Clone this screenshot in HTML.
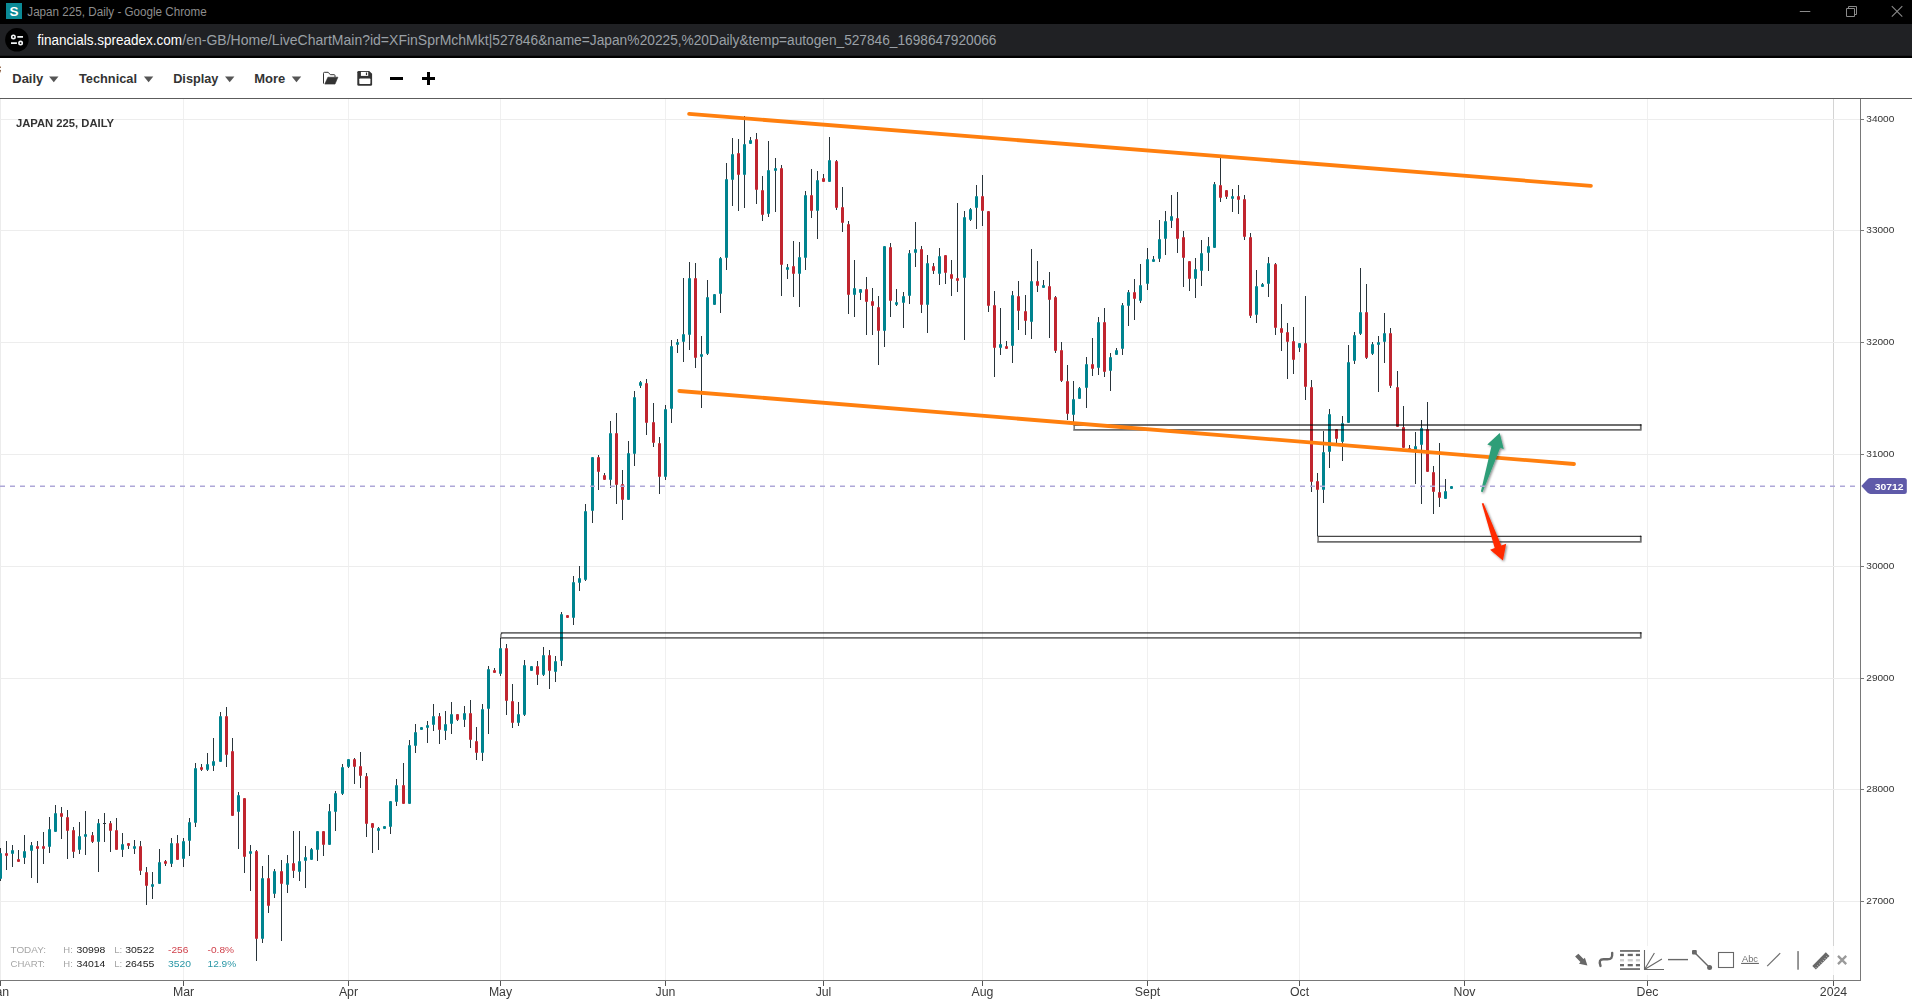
<!DOCTYPE html>
<html><head><meta charset="utf-8"><title>Japan 225, Daily</title>
<style>html,body{margin:0;padding:0;background:#fff;overflow:hidden}svg{display:block}text{white-space:pre}</style></head><body>
<svg width="1912" height="1003" viewBox="0 0 1912 1003">
<g shape-rendering="crispEdges">
<rect x="183" y="99" width="1" height="881" fill="#f0f0f0"/>
<rect x="348" y="99" width="1" height="881" fill="#f0f0f0"/>
<rect x="500" y="99" width="1" height="881" fill="#f0f0f0"/>
<rect x="665" y="99" width="1" height="881" fill="#f0f0f0"/>
<rect x="823" y="99" width="1" height="881" fill="#f0f0f0"/>
<rect x="982" y="99" width="1" height="881" fill="#f0f0f0"/>
<rect x="1147" y="99" width="1" height="881" fill="#f0f0f0"/>
<rect x="1299" y="99" width="1" height="881" fill="#f0f0f0"/>
<rect x="1464" y="99" width="1" height="881" fill="#f0f0f0"/>
<rect x="1647" y="99" width="1" height="881" fill="#f0f0f0"/>
<rect x="1833" y="99" width="1" height="881" fill="#d4d4d4"/>
<rect x="0" y="99" width="1" height="881" fill="#ececec"/>
<rect x="0" y="119" width="1860" height="1" fill="#ededed"/>
<rect x="0" y="230" width="1860" height="1" fill="#ededed"/>
<rect x="0" y="342" width="1860" height="1" fill="#ededed"/>
<rect x="0" y="454" width="1860" height="1" fill="#ededed"/>
<rect x="0" y="566" width="1860" height="1" fill="#ededed"/>
<rect x="0" y="678" width="1860" height="1" fill="#ededed"/>
<rect x="0" y="789" width="1860" height="1" fill="#ededed"/>
<rect x="0" y="901" width="1860" height="1" fill="#ededed"/>
</g>
<path d="M0.5 848V881M6.5 841V870M12.5 845V867M18.5 850V862M24.5 835V864M31.5 842V878M37.5 841V883M43.5 832V864M49.5 817V853M55.5 805V832M61.5 807V839M67.5 810V859M73.5 827V858M79.5 822V854M85.5 811V855M92.5 832V843M98.5 819V872M104.5 813V842M110.5 821V852M116.5 818V850M122.5 833V857M128.5 843V849M134.5 840V854M140.5 841V875M146.5 867V905M152.5 872V899M159.5 849V884M165.5 860V866M171.5 838V867M177.5 835V860M183.5 838V867M189.5 818V856M195.5 763V827M201.5 764V771M207.5 753V771M213.5 738V771M220.5 712V762M226.5 707V767M232.5 738V816M238.5 792V849M244.5 798V873M250.5 845V891M256.5 850V961M262.5 866V943M268.5 855V913M274.5 869V898M281.5 860V941M287.5 855V893M293.5 831V878M299.5 831V881M305.5 846V888M311.5 848V860M317.5 831V861M323.5 831V856M329.5 804V845M335.5 791V831M342.5 764V795M348.5 759V768M354.5 758V784M360.5 752V788M366.5 773V837M372.5 823V853M378.5 827V850M384.5 826V829M390.5 801V834M396.5 779V806M403.5 763V804M409.5 740V804M415.5 724V753M421.5 727V730M427.5 721V743M433.5 704V731M439.5 713V744M445.5 711V740M451.5 702V734M457.5 714V721M464.5 706V727M470.5 700V748M476.5 727V760M482.5 704V761M488.5 666V734M494.5 668V673M500.5 638V676M506.5 644V715M512.5 684V728M518.5 702V726M524.5 660V716M531.5 666V671M537.5 661V685M543.5 647V676M549.5 650V689M555.5 656V682M561.5 612V666M567.5 615V618M573.5 576V625M579.5 566V591M585.5 504V581M592.5 457V523M598.5 455V490M604.5 473V480M610.5 421V488M616.5 413V504M622.5 470V520M628.5 441V500M634.5 391V466M640.5 381V388M646.5 379V435M653.5 403V447M659.5 437V494M665.5 405V480M671.5 340V423M677.5 339V353M683.5 278V362M689.5 262V350M695.5 263V368M701.5 336V408M707.5 280V355M714.5 294V305M720.5 257V313M726.5 163V270M732.5 138V206M738.5 139V211M744.5 116V208M750.5 137V144M756.5 133V204M762.5 176V221M768.5 141V217M775.5 158V212M781.5 165V296M787.5 264V279M793.5 241V297M799.5 242V307M805.5 191V270M811.5 169V218M817.5 171V239M823.5 174V182M829.5 137V182M836.5 160V210M842.5 187V232M848.5 221V314M854.5 260V317M860.5 289V300M866.5 277V335M872.5 288V335M878.5 296V365M884.5 246V347M890.5 243V317M896.5 289V306M903.5 292V328M909.5 250V304M915.5 222V267M921.5 246V313M927.5 255V333M933.5 263V274M939.5 248V285M945.5 255V284M951.5 260V296M957.5 203V292M964.5 211V340M970.5 208V221M976.5 185V229M982.5 175V226M988.5 211V312M994.5 291V377M1000.5 308V355M1006.5 341V349M1012.5 291V363M1018.5 281V330M1025.5 295V335M1031.5 249V339M1037.5 261V292M1043.5 280V288M1049.5 272V338M1055.5 296V353M1061.5 342V382M1067.5 365V420M1073.5 381V424M1079.5 387V399M1086.5 357V408M1092.5 338V376M1098.5 317V375M1104.5 308V377M1110.5 353V391M1116.5 348V355M1122.5 303V355M1128.5 290V326M1134.5 279V320M1140.5 264V303M1147.5 248V290M1153.5 256V262M1159.5 220V262M1165.5 211V255M1171.5 195V228M1177.5 192V253M1183.5 231V287M1189.5 261V291M1195.5 258V298M1201.5 240V286M1208.5 237V271M1214.5 182V248M1220.5 158V202M1226.5 190V199M1232.5 189V212M1238.5 185V214M1244.5 195V240M1250.5 233V318M1256.5 270V323M1262.5 283V287M1268.5 257V297M1275.5 263V335M1281.5 304V351M1287.5 323V379M1293.5 327V374M1299.5 343V352M1305.5 296V400M1311.5 380V492M1317.5 473V536M1323.5 431V503M1329.5 409V468M1336.5 429V443M1342.5 416V461M1348.5 345V423M1354.5 332V364M1360.5 268V335M1366.5 284V359M1372.5 342V355M1378.5 336V392M1384.5 313V363M1390.5 328V388M1397.5 371V427M1403.5 406V448M1409.5 445V449M1415.5 432V484M1421.5 420V504M1427.5 402V472M1433.5 466V514M1439.5 443V507M1445.5 479V499M1451.5 486V489" stroke="#29343a" stroke-width="1" fill="none"/>
<rect x="-1.0" y="853" width="3" height="26" rx="1" fill="#00838f"/>
<rect x="5.0" y="853" width="3" height="3" rx="1" fill="#c0252f"/>
<rect x="11.0" y="850" width="3" height="4" rx="1" fill="#00838f"/>
<rect x="17.0" y="859" width="3" height="3" rx="1" fill="#c0252f"/>
<rect x="23.0" y="851" width="3" height="7" rx="1" fill="#00838f"/>
<rect x="30.0" y="845" width="3" height="6" rx="1" fill="#00838f"/>
<rect x="36.0" y="846" width="3" height="3" rx="1" fill="#c0252f"/>
<rect x="42.0" y="846" width="3" height="3" rx="1" fill="#c0252f"/>
<rect x="48.0" y="829" width="3" height="18" rx="1" fill="#00838f"/>
<rect x="54.0" y="813" width="3" height="19" rx="1" fill="#00838f"/>
<rect x="60.0" y="813" width="3" height="4" rx="1" fill="#c0252f"/>
<rect x="66.0" y="817" width="3" height="14" rx="1" fill="#c0252f"/>
<rect x="72.0" y="830" width="3" height="22" rx="1" fill="#c0252f"/>
<rect x="78.0" y="836" width="3" height="14" rx="1" fill="#00838f"/>
<rect x="84.0" y="834" width="3" height="3" rx="1" fill="#00838f"/>
<rect x="91.0" y="835" width="3" height="7" rx="1" fill="#c0252f"/>
<rect x="97.0" y="823" width="3" height="19" rx="1" fill="#00838f"/>
<rect x="103.0" y="823" width="3" height="1" fill="#29343a"/>
<rect x="109.0" y="823" width="3" height="8" rx="1" fill="#c0252f"/>
<rect x="115.0" y="830" width="3" height="20" rx="1" fill="#c0252f"/>
<rect x="121.0" y="844" width="3" height="6" rx="1" fill="#00838f"/>
<rect x="127.0" y="843" width="3" height="3" rx="1" fill="#c0252f"/>
<rect x="133.0" y="846" width="3" height="3" rx="1" fill="#00838f"/>
<rect x="139.0" y="846" width="3" height="25" rx="1" fill="#c0252f"/>
<rect x="145.0" y="872" width="3" height="14" rx="1" fill="#c0252f"/>
<rect x="151.0" y="884" width="3" height="3" rx="1" fill="#00838f"/>
<rect x="158.0" y="862" width="3" height="22" rx="1" fill="#00838f"/>
<rect x="164.0" y="861" width="3" height="3" rx="1" fill="#c0252f"/>
<rect x="170.0" y="843" width="3" height="21" rx="1" fill="#00838f"/>
<rect x="176.0" y="843" width="3" height="17" rx="1" fill="#c0252f"/>
<rect x="182.0" y="841" width="3" height="18" rx="1" fill="#00838f"/>
<rect x="188.0" y="822" width="3" height="19" rx="1" fill="#00838f"/>
<rect x="194.0" y="768" width="3" height="55" rx="1" fill="#00838f"/>
<rect x="200.0" y="767" width="3" height="3" rx="1" fill="#c0252f"/>
<rect x="206.0" y="764" width="3" height="6" rx="1" fill="#00838f"/>
<rect x="212.0" y="761" width="3" height="5" rx="1" fill="#00838f"/>
<rect x="219.0" y="716" width="3" height="46" rx="1" fill="#00838f"/>
<rect x="225.0" y="716" width="3" height="39" rx="1" fill="#c0252f"/>
<rect x="231.0" y="751" width="3" height="65" rx="1" fill="#c0252f"/>
<rect x="237.0" y="795" width="3" height="17" rx="1" fill="#00838f"/>
<rect x="243.0" y="798" width="3" height="59" rx="1" fill="#c0252f"/>
<rect x="249.0" y="851" width="3" height="3" rx="1" fill="#00838f"/>
<rect x="255.0" y="851" width="3" height="88" rx="1" fill="#c0252f"/>
<rect x="261.0" y="878" width="3" height="61" rx="1" fill="#00838f"/>
<rect x="267.0" y="878" width="3" height="28" rx="1" fill="#c0252f"/>
<rect x="273.0" y="871" width="3" height="23" rx="1" fill="#00838f"/>
<rect x="280.0" y="871" width="3" height="13" rx="1" fill="#c0252f"/>
<rect x="286.0" y="863" width="3" height="22" rx="1" fill="#00838f"/>
<rect x="292.0" y="863" width="3" height="8" rx="1" fill="#c0252f"/>
<rect x="298.0" y="861" width="3" height="11" rx="1" fill="#00838f"/>
<rect x="304.0" y="857" width="3" height="4" rx="1" fill="#00838f"/>
<rect x="310.0" y="849" width="3" height="11" rx="1" fill="#00838f"/>
<rect x="316.0" y="831" width="3" height="19" rx="1" fill="#00838f"/>
<rect x="322.0" y="831" width="3" height="14" rx="1" fill="#c0252f"/>
<rect x="328.0" y="811" width="3" height="34" rx="1" fill="#00838f"/>
<rect x="334.0" y="793" width="3" height="19" rx="1" fill="#00838f"/>
<rect x="341.0" y="767" width="3" height="27" rx="1" fill="#00838f"/>
<rect x="347.0" y="759" width="3" height="8" rx="1" fill="#00838f"/>
<rect x="353.0" y="759" width="3" height="8" rx="1" fill="#c0252f"/>
<rect x="359.0" y="766" width="3" height="10" rx="1" fill="#c0252f"/>
<rect x="365.0" y="776" width="3" height="48" rx="1" fill="#c0252f"/>
<rect x="371.0" y="823" width="3" height="5" rx="1" fill="#c0252f"/>
<rect x="377.0" y="828" width="3" height="3" rx="1" fill="#00838f"/>
<rect x="383.0" y="826" width="3" height="3" rx="1" fill="#00838f"/>
<rect x="389.0" y="801" width="3" height="26" rx="1" fill="#00838f"/>
<rect x="395.0" y="785" width="3" height="17" rx="1" fill="#00838f"/>
<rect x="402.0" y="785" width="3" height="19" rx="1" fill="#c0252f"/>
<rect x="408.0" y="745" width="3" height="59" rx="1" fill="#00838f"/>
<rect x="414.0" y="732" width="3" height="14" rx="1" fill="#00838f"/>
<rect x="420.0" y="727" width="3" height="3" rx="1" fill="#00838f"/>
<rect x="426.0" y="725" width="3" height="3" rx="1" fill="#00838f"/>
<rect x="432.0" y="716" width="3" height="9" rx="1" fill="#00838f"/>
<rect x="438.0" y="716" width="3" height="14" rx="1" fill="#c0252f"/>
<rect x="444.0" y="724" width="3" height="7" rx="1" fill="#00838f"/>
<rect x="450.0" y="714" width="3" height="10" rx="1" fill="#00838f"/>
<rect x="456.0" y="714" width="3" height="6" rx="1" fill="#c0252f"/>
<rect x="463.0" y="713" width="3" height="7" rx="1" fill="#00838f"/>
<rect x="469.0" y="713" width="3" height="27" rx="1" fill="#c0252f"/>
<rect x="475.0" y="741" width="3" height="12" rx="1" fill="#c0252f"/>
<rect x="481.0" y="709" width="3" height="44" rx="1" fill="#00838f"/>
<rect x="487.0" y="669" width="3" height="40" rx="1" fill="#00838f"/>
<rect x="493.0" y="670" width="3" height="3" rx="1" fill="#c0252f"/>
<rect x="499.0" y="648" width="3" height="26" rx="1" fill="#00838f"/>
<rect x="505.0" y="648" width="3" height="53" rx="1" fill="#c0252f"/>
<rect x="511.0" y="701" width="3" height="22" rx="1" fill="#c0252f"/>
<rect x="517.0" y="714" width="3" height="9" rx="1" fill="#00838f"/>
<rect x="523.0" y="665" width="3" height="50" rx="1" fill="#00838f"/>
<rect x="530.0" y="666" width="3" height="5" rx="1" fill="#00838f"/>
<rect x="536.0" y="666" width="3" height="9" rx="1" fill="#c0252f"/>
<rect x="542.0" y="655" width="3" height="20" rx="1" fill="#00838f"/>
<rect x="548.0" y="655" width="3" height="16" rx="1" fill="#c0252f"/>
<rect x="554.0" y="661" width="3" height="11" rx="1" fill="#00838f"/>
<rect x="560.0" y="614" width="3" height="47" rx="1" fill="#00838f"/>
<rect x="566.0" y="615" width="3" height="3" rx="1" fill="#c0252f"/>
<rect x="572.0" y="582" width="3" height="36" rx="1" fill="#00838f"/>
<rect x="578.0" y="578" width="3" height="5" rx="1" fill="#00838f"/>
<rect x="584.0" y="511" width="3" height="69" rx="1" fill="#00838f"/>
<rect x="591.0" y="457" width="3" height="54" rx="1" fill="#00838f"/>
<rect x="597.0" y="457" width="3" height="15" rx="1" fill="#c0252f"/>
<rect x="603.0" y="475" width="3" height="5" rx="1" fill="#c0252f"/>
<rect x="609.0" y="433" width="3" height="47" rx="1" fill="#00838f"/>
<rect x="615.0" y="433" width="3" height="52" rx="1" fill="#c0252f"/>
<rect x="621.0" y="484" width="3" height="16" rx="1" fill="#c0252f"/>
<rect x="627.0" y="453" width="3" height="47" rx="1" fill="#00838f"/>
<rect x="633.0" y="397" width="3" height="57" rx="1" fill="#00838f"/>
<rect x="639.0" y="382" width="3" height="4" rx="1" fill="#00838f"/>
<rect x="645.0" y="383" width="3" height="40" rx="1" fill="#c0252f"/>
<rect x="652.0" y="422" width="3" height="21" rx="1" fill="#c0252f"/>
<rect x="658.0" y="443" width="3" height="34" rx="1" fill="#c0252f"/>
<rect x="664.0" y="409" width="3" height="68" rx="1" fill="#00838f"/>
<rect x="670.0" y="346" width="3" height="63" rx="1" fill="#00838f"/>
<rect x="676.0" y="342" width="3" height="3" rx="1" fill="#00838f"/>
<rect x="682.0" y="334" width="3" height="8" rx="1" fill="#00838f"/>
<rect x="688.0" y="278" width="3" height="57" rx="1" fill="#00838f"/>
<rect x="694.0" y="278" width="3" height="80" rx="1" fill="#c0252f"/>
<rect x="700.0" y="354" width="3" height="3" rx="1" fill="#00838f"/>
<rect x="706.0" y="297" width="3" height="57" rx="1" fill="#00838f"/>
<rect x="713.0" y="294" width="3" height="11" rx="1" fill="#00838f"/>
<rect x="719.0" y="258" width="3" height="36" rx="1" fill="#00838f"/>
<rect x="725.0" y="179" width="3" height="79" rx="1" fill="#00838f"/>
<rect x="731.0" y="154" width="3" height="26" rx="1" fill="#00838f"/>
<rect x="737.0" y="153" width="3" height="22" rx="1" fill="#c0252f"/>
<rect x="743.0" y="144" width="3" height="31" rx="1" fill="#00838f"/>
<rect x="749.0" y="140" width="3" height="4" rx="1" fill="#00838f"/>
<rect x="755.0" y="139" width="3" height="51" rx="1" fill="#c0252f"/>
<rect x="761.0" y="190" width="3" height="25" rx="1" fill="#c0252f"/>
<rect x="767.0" y="170" width="3" height="44" rx="1" fill="#00838f"/>
<rect x="774.0" y="168" width="3" height="3" rx="1" fill="#00838f"/>
<rect x="780.0" y="168" width="3" height="97" rx="1" fill="#c0252f"/>
<rect x="786.0" y="267" width="3" height="3" rx="1" fill="#00838f"/>
<rect x="792.0" y="266" width="3" height="8" rx="1" fill="#c0252f"/>
<rect x="798.0" y="257" width="3" height="17" rx="1" fill="#00838f"/>
<rect x="804.0" y="195" width="3" height="63" rx="1" fill="#00838f"/>
<rect x="810.0" y="195" width="3" height="16" rx="1" fill="#c0252f"/>
<rect x="816.0" y="180" width="3" height="31" rx="1" fill="#00838f"/>
<rect x="822.0" y="178" width="3" height="4" rx="1" fill="#c0252f"/>
<rect x="828.0" y="160" width="3" height="22" rx="1" fill="#00838f"/>
<rect x="835.0" y="161" width="3" height="47" rx="1" fill="#c0252f"/>
<rect x="841.0" y="207" width="3" height="16" rx="1" fill="#c0252f"/>
<rect x="847.0" y="224" width="3" height="71" rx="1" fill="#c0252f"/>
<rect x="853.0" y="288" width="3" height="7" rx="1" fill="#00838f"/>
<rect x="859.0" y="289" width="3" height="4" rx="1" fill="#00838f"/>
<rect x="865.0" y="289" width="3" height="13" rx="1" fill="#c0252f"/>
<rect x="871.0" y="301" width="3" height="5" rx="1" fill="#c0252f"/>
<rect x="877.0" y="307" width="3" height="24" rx="1" fill="#c0252f"/>
<rect x="883.0" y="246" width="3" height="85" rx="1" fill="#00838f"/>
<rect x="889.0" y="247" width="3" height="54" rx="1" fill="#c0252f"/>
<rect x="895.0" y="302" width="3" height="3" rx="1" fill="#00838f"/>
<rect x="902.0" y="296" width="3" height="7" rx="1" fill="#00838f"/>
<rect x="908.0" y="253" width="3" height="43" rx="1" fill="#00838f"/>
<rect x="914.0" y="249" width="3" height="4" rx="1" fill="#00838f"/>
<rect x="920.0" y="249" width="3" height="56" rx="1" fill="#c0252f"/>
<rect x="926.0" y="263" width="3" height="42" rx="1" fill="#00838f"/>
<rect x="932.0" y="266" width="3" height="5" rx="1" fill="#c0252f"/>
<rect x="938.0" y="256" width="3" height="18" rx="1" fill="#00838f"/>
<rect x="944.0" y="255" width="3" height="18" rx="1" fill="#c0252f"/>
<rect x="950.0" y="274" width="3" height="5" rx="1" fill="#c0252f"/>
<rect x="956.0" y="278" width="3" height="3" rx="1" fill="#c0252f"/>
<rect x="963.0" y="217" width="3" height="61" rx="1" fill="#00838f"/>
<rect x="969.0" y="209" width="3" height="11" rx="1" fill="#00838f"/>
<rect x="975.0" y="196" width="3" height="12" rx="1" fill="#00838f"/>
<rect x="981.0" y="196" width="3" height="15" rx="1" fill="#c0252f"/>
<rect x="987.0" y="211" width="3" height="95" rx="1" fill="#c0252f"/>
<rect x="993.0" y="305" width="3" height="43" rx="1" fill="#c0252f"/>
<rect x="999.0" y="344" width="3" height="4" rx="1" fill="#00838f"/>
<rect x="1005.0" y="346" width="3" height="3" rx="1" fill="#c0252f"/>
<rect x="1011.0" y="295" width="3" height="51" rx="1" fill="#00838f"/>
<rect x="1017.0" y="296" width="3" height="15" rx="1" fill="#c0252f"/>
<rect x="1024.0" y="311" width="3" height="10" rx="1" fill="#c0252f"/>
<rect x="1030.0" y="281" width="3" height="41" rx="1" fill="#00838f"/>
<rect x="1036.0" y="281" width="3" height="5" rx="1" fill="#c0252f"/>
<rect x="1042.0" y="285" width="3" height="3" rx="1" fill="#00838f"/>
<rect x="1048.0" y="286" width="3" height="14" rx="1" fill="#c0252f"/>
<rect x="1054.0" y="297" width="3" height="54" rx="1" fill="#c0252f"/>
<rect x="1060.0" y="350" width="3" height="31" rx="1" fill="#c0252f"/>
<rect x="1066.0" y="381" width="3" height="33" rx="1" fill="#c0252f"/>
<rect x="1072.0" y="399" width="3" height="16" rx="1" fill="#00838f"/>
<rect x="1078.0" y="388" width="3" height="11" rx="1" fill="#00838f"/>
<rect x="1085.0" y="364" width="3" height="24" rx="1" fill="#00838f"/>
<rect x="1091.0" y="364" width="3" height="5" rx="1" fill="#c0252f"/>
<rect x="1097.0" y="322" width="3" height="46" rx="1" fill="#00838f"/>
<rect x="1103.0" y="322" width="3" height="50" rx="1" fill="#c0252f"/>
<rect x="1109.0" y="357" width="3" height="14" rx="1" fill="#00838f"/>
<rect x="1115.0" y="350" width="3" height="5" rx="1" fill="#00838f"/>
<rect x="1121.0" y="305" width="3" height="44" rx="1" fill="#00838f"/>
<rect x="1127.0" y="292" width="3" height="14" rx="1" fill="#00838f"/>
<rect x="1133.0" y="292" width="3" height="7" rx="1" fill="#c0252f"/>
<rect x="1139.0" y="285" width="3" height="16" rx="1" fill="#00838f"/>
<rect x="1146.0" y="259" width="3" height="25" rx="1" fill="#00838f"/>
<rect x="1152.0" y="259" width="3" height="3" rx="1" fill="#00838f"/>
<rect x="1158.0" y="239" width="3" height="20" rx="1" fill="#00838f"/>
<rect x="1164.0" y="221" width="3" height="18" rx="1" fill="#00838f"/>
<rect x="1170.0" y="216" width="3" height="5" rx="1" fill="#00838f"/>
<rect x="1176.0" y="218" width="3" height="21" rx="1" fill="#c0252f"/>
<rect x="1182.0" y="237" width="3" height="21" rx="1" fill="#c0252f"/>
<rect x="1188.0" y="261" width="3" height="18" rx="1" fill="#c0252f"/>
<rect x="1194.0" y="269" width="3" height="10" rx="1" fill="#00838f"/>
<rect x="1200.0" y="253" width="3" height="18" rx="1" fill="#00838f"/>
<rect x="1207.0" y="246" width="3" height="7" rx="1" fill="#00838f"/>
<rect x="1213.0" y="184" width="3" height="64" rx="1" fill="#00838f"/>
<rect x="1219.0" y="185" width="3" height="13" rx="1" fill="#c0252f"/>
<rect x="1225.0" y="190" width="3" height="7" rx="1" fill="#c0252f"/>
<rect x="1231.0" y="196" width="3" height="3" rx="1" fill="#00838f"/>
<rect x="1237.0" y="196" width="3" height="4" rx="1" fill="#c0252f"/>
<rect x="1243.0" y="199" width="3" height="38" rx="1" fill="#c0252f"/>
<rect x="1249.0" y="237" width="3" height="79" rx="1" fill="#c0252f"/>
<rect x="1255.0" y="286" width="3" height="29" rx="1" fill="#00838f"/>
<rect x="1261.0" y="284" width="3" height="3" rx="1" fill="#00838f"/>
<rect x="1267.0" y="263" width="3" height="21" rx="1" fill="#00838f"/>
<rect x="1274.0" y="264" width="3" height="64" rx="1" fill="#c0252f"/>
<rect x="1280.0" y="328" width="3" height="5" rx="1" fill="#c0252f"/>
<rect x="1286.0" y="332" width="3" height="10" rx="1" fill="#c0252f"/>
<rect x="1292.0" y="341" width="3" height="19" rx="1" fill="#c0252f"/>
<rect x="1298.0" y="343" width="3" height="5" rx="1" fill="#00838f"/>
<rect x="1304.0" y="343" width="3" height="44" rx="1" fill="#c0252f"/>
<rect x="1310.0" y="387" width="3" height="95" rx="1" fill="#c0252f"/>
<rect x="1316.0" y="481" width="3" height="9" rx="1" fill="#c0252f"/>
<rect x="1322.0" y="452" width="3" height="38" rx="1" fill="#00838f"/>
<rect x="1328.0" y="414" width="3" height="38" rx="1" fill="#00838f"/>
<rect x="1335.0" y="429" width="3" height="10" rx="1" fill="#c0252f"/>
<rect x="1341.0" y="423" width="3" height="19" rx="1" fill="#00838f"/>
<rect x="1347.0" y="362" width="3" height="61" rx="1" fill="#00838f"/>
<rect x="1353.0" y="335" width="3" height="26" rx="1" fill="#00838f"/>
<rect x="1359.0" y="312" width="3" height="22" rx="1" fill="#00838f"/>
<rect x="1365.0" y="312" width="3" height="46" rx="1" fill="#c0252f"/>
<rect x="1371.0" y="344" width="3" height="10" rx="1" fill="#00838f"/>
<rect x="1377.0" y="342" width="3" height="3" rx="1" fill="#00838f"/>
<rect x="1383.0" y="333" width="3" height="9" rx="1" fill="#00838f"/>
<rect x="1389.0" y="333" width="3" height="53" rx="1" fill="#c0252f"/>
<rect x="1396.0" y="387" width="3" height="40" rx="1" fill="#c0252f"/>
<rect x="1402.0" y="427" width="3" height="21" rx="1" fill="#c0252f"/>
<rect x="1408.0" y="448" width="3" height="3" rx="1" fill="#c0252f"/>
<rect x="1414.0" y="446" width="3" height="4" rx="1" fill="#00838f"/>
<rect x="1420.0" y="428" width="3" height="17" rx="1" fill="#00838f"/>
<rect x="1426.0" y="429" width="3" height="43" rx="1" fill="#c0252f"/>
<rect x="1432.0" y="472" width="3" height="20" rx="1" fill="#c0252f"/>
<rect x="1438.0" y="492" width="3" height="6" rx="1" fill="#c0252f"/>
<rect x="1444.0" y="491" width="3" height="8" rx="1" fill="#00838f"/>
<rect x="1450.0" y="486" width="3" height="3" rx="1" fill="#00838f"/>
<path d="M501.7 632.9H1640.8" fill="none" stroke="#000" stroke-opacity="0.57" stroke-width="1.8" stroke-linecap="round"/>
<path d="M500.8 637.8H1640.8M1640.8 632.9V637.8" fill="none" stroke="#000" stroke-opacity="0.57" stroke-width="1.8" stroke-linecap="round"/>
<path d="M500.90000000000003 636.9V634.5L502.0 633.1" fill="none" stroke="#000" stroke-opacity="0.57" stroke-width="1.3"/>
<path d="M1074 425H1640.8" fill="none" stroke="#000" stroke-opacity="0.57" stroke-width="1.8" stroke-linecap="round"/>
<path d="M1074 429.9H1640.8M1640.8 425V429.9" fill="none" stroke="#000" stroke-opacity="0.57" stroke-width="1.8" stroke-linecap="round"/>
<path d="M1074.2 429.0V425.7" fill="none" stroke="#000" stroke-opacity="0.55" stroke-width="1.5"/>
<path d="M1317.9 536.4H1640.8" fill="none" stroke="#000" stroke-opacity="0.72" stroke-width="1.3" stroke-linecap="round"/>
<path d="M1317.9 541.9H1640.8M1640.8 536.4V541.9" fill="none" stroke="#000" stroke-opacity="0.57" stroke-width="1.8" stroke-linecap="round"/>
<path d="M1318.1000000000001 541.0V537.1" fill="none" stroke="#000" stroke-opacity="0.55" stroke-width="1.5"/>
<path d="M689.1 113.9L1590.9 185.9" stroke="#ff7f0e" stroke-width="3.8" stroke-linecap="round" fill="none"/>
<path d="M679.3 391L1574 464" stroke="#ff7f0e" stroke-width="3.8" stroke-linecap="round" fill="none"/>
<defs><filter id="sh" x="-30%" y="-10%" width="170%" height="125%"><feDropShadow dx="1.2" dy="1.2" stdDeviation="0.9" flood-color="#000" flood-opacity="0.45"/></filter></defs>
<path d="M1480.9 491.6 L1491.5 445.9 L1487.3 444.6 L1499.7 433 L1503.8 449.2 L1500.2 447.8 L1482.6 492.2 Z" fill="#2f9e78" filter="url(#sh)"/>
<path d="M1481.8 503.5 L1483.4 502.9 L1501.3 545.6 L1506.2 543.7 L1502.9 560.5 L1490.1 549.7 L1494.7 548 Z" fill="#ff2a00" filter="url(#sh)"/>
<path d="M0 486.2H1446M1460 486.2H1860" stroke="#aea7d8" stroke-width="1.5" stroke-dasharray="5 5" fill="none"/>
<g shape-rendering="crispEdges">
<rect x="0" y="980" width="1861" height="1" fill="#787878"/>
<rect x="1860" y="99" width="1" height="882" fill="#787878"/>
<rect x="183" y="981" width="1" height="5" fill="#555"/>
<rect x="348" y="981" width="1" height="5" fill="#555"/>
<rect x="500" y="981" width="1" height="5" fill="#555"/>
<rect x="665" y="981" width="1" height="5" fill="#555"/>
<rect x="823" y="981" width="1" height="5" fill="#555"/>
<rect x="982" y="981" width="1" height="5" fill="#555"/>
<rect x="1147" y="981" width="1" height="5" fill="#555"/>
<rect x="1299" y="981" width="1" height="5" fill="#555"/>
<rect x="1464" y="981" width="1" height="5" fill="#555"/>
<rect x="1647" y="981" width="1" height="5" fill="#555"/>
<rect x="1833" y="981" width="1" height="5" fill="#555"/>
<rect x="1861" y="119" width="3" height="1" fill="#777"/>
<rect x="1861" y="230" width="3" height="1" fill="#777"/>
<rect x="1861" y="342" width="3" height="1" fill="#777"/>
<rect x="1861" y="454" width="3" height="1" fill="#777"/>
<rect x="1861" y="566" width="3" height="1" fill="#777"/>
<rect x="1861" y="678" width="3" height="1" fill="#777"/>
<rect x="1861" y="789" width="3" height="1" fill="#777"/>
<rect x="1861" y="901" width="3" height="1" fill="#777"/>
<rect x="0" y="981" width="1" height="5" fill="#555"/>
</g>
<g opacity="0.999">
<text x="183.5" y="996" text-anchor="middle" font-family="Liberation Sans, sans-serif" font-size="12.3" fill="#3a3a3a">Mar</text>
<text x="348.5" y="996" text-anchor="middle" font-family="Liberation Sans, sans-serif" font-size="12.3" fill="#3a3a3a">Apr</text>
<text x="500.5" y="996" text-anchor="middle" font-family="Liberation Sans, sans-serif" font-size="12.3" fill="#3a3a3a">May</text>
<text x="665.5" y="996" text-anchor="middle" font-family="Liberation Sans, sans-serif" font-size="12.3" fill="#3a3a3a">Jun</text>
<text x="823.5" y="996" text-anchor="middle" font-family="Liberation Sans, sans-serif" font-size="12.3" fill="#3a3a3a">Jul</text>
<text x="982.5" y="996" text-anchor="middle" font-family="Liberation Sans, sans-serif" font-size="12.3" fill="#3a3a3a">Aug</text>
<text x="1147.5" y="996" text-anchor="middle" font-family="Liberation Sans, sans-serif" font-size="12.3" fill="#3a3a3a">Sept</text>
<text x="1299.5" y="996" text-anchor="middle" font-family="Liberation Sans, sans-serif" font-size="12.3" fill="#3a3a3a">Oct</text>
<text x="1464.5" y="996" text-anchor="middle" font-family="Liberation Sans, sans-serif" font-size="12.3" fill="#3a3a3a">Nov</text>
<text x="1647.5" y="996" text-anchor="middle" font-family="Liberation Sans, sans-serif" font-size="12.3" fill="#3a3a3a">Dec</text>
<text x="1833.5" y="996" text-anchor="middle" font-family="Liberation Sans, sans-serif" font-size="12.3" fill="#3a3a3a">2024</text>
<text x="-4.6" y="996" font-family="Liberation Sans, sans-serif" font-size="12.3" fill="#3a3a3a">an</text>
<text x="1866.3" y="121.8" font-family="Liberation Sans, sans-serif" font-size="9.7" fill="#333" textLength="28" lengthAdjust="spacingAndGlyphs">34000</text>
<text x="1866.3" y="232.8" font-family="Liberation Sans, sans-serif" font-size="9.7" fill="#333" textLength="28" lengthAdjust="spacingAndGlyphs">33000</text>
<text x="1866.3" y="344.8" font-family="Liberation Sans, sans-serif" font-size="9.7" fill="#333" textLength="28" lengthAdjust="spacingAndGlyphs">32000</text>
<text x="1866.3" y="456.8" font-family="Liberation Sans, sans-serif" font-size="9.7" fill="#333" textLength="28" lengthAdjust="spacingAndGlyphs">31000</text>
<text x="1866.3" y="568.8" font-family="Liberation Sans, sans-serif" font-size="9.7" fill="#333" textLength="28" lengthAdjust="spacingAndGlyphs">30000</text>
<text x="1866.3" y="680.8" font-family="Liberation Sans, sans-serif" font-size="9.7" fill="#333" textLength="28" lengthAdjust="spacingAndGlyphs">29000</text>
<text x="1866.3" y="791.8" font-family="Liberation Sans, sans-serif" font-size="9.7" fill="#333" textLength="28" lengthAdjust="spacingAndGlyphs">28000</text>
<text x="1866.3" y="903.8" font-family="Liberation Sans, sans-serif" font-size="9.7" fill="#333" textLength="28" lengthAdjust="spacingAndGlyphs">27000</text>
<path d="M1861.3 486 L1867.6 479.2 Q1868.8 478 1870.6 478 H1904.3 Q1906.8 478 1906.8 480.5 V491.4 Q1906.8 493.9 1904.3 493.9 H1870.6 Q1868.8 493.9 1867.6 492.8 Z" fill="#5f5aa9"/>
<text x="1874.8" y="490" font-family="Liberation Sans, sans-serif" font-size="9.6" font-weight="bold" fill="#fff" textLength="28.8" lengthAdjust="spacingAndGlyphs">30712</text>
<text x="16" y="127.1" font-family="Liberation Sans, sans-serif" font-size="11" font-weight="bold" fill="#333" textLength="98" lengthAdjust="spacingAndGlyphs">JAPAN 225, DAILY</text>
<text x="10.5" y="952.8" font-family="Liberation Sans, sans-serif" font-size="9.7" fill="#a6a6a6" textLength="35.5" lengthAdjust="spacingAndGlyphs">TODAY:</text>
<text x="63.3" y="952.8" font-family="Liberation Sans, sans-serif" font-size="9.7" fill="#a6a6a6" textLength="9.5" lengthAdjust="spacingAndGlyphs">H:</text>
<text x="76.4" y="952.8" font-family="Liberation Sans, sans-serif" font-size="9.7" fill="#222" textLength="29" lengthAdjust="spacingAndGlyphs">30998</text>
<text x="114.2" y="952.8" font-family="Liberation Sans, sans-serif" font-size="9.7" fill="#a6a6a6" textLength="8" lengthAdjust="spacingAndGlyphs">L:</text>
<text x="125.2" y="952.8" font-family="Liberation Sans, sans-serif" font-size="9.7" fill="#222" textLength="29.2" lengthAdjust="spacingAndGlyphs">30522</text>
<text x="168" y="952.8" font-family="Liberation Sans, sans-serif" font-size="9.7" fill="#d0424c" textLength="20.3" lengthAdjust="spacingAndGlyphs">-256</text>
<text x="207.6" y="952.8" font-family="Liberation Sans, sans-serif" font-size="9.7" fill="#d0424c" textLength="26.4" lengthAdjust="spacingAndGlyphs">-0.8%</text>
<text x="10.5" y="967.0" font-family="Liberation Sans, sans-serif" font-size="9.7" fill="#a6a6a6" textLength="34.5" lengthAdjust="spacingAndGlyphs">CHART:</text>
<text x="63.3" y="967.0" font-family="Liberation Sans, sans-serif" font-size="9.7" fill="#a6a6a6" textLength="9.5" lengthAdjust="spacingAndGlyphs">H:</text>
<text x="76.4" y="967.0" font-family="Liberation Sans, sans-serif" font-size="9.7" fill="#222" textLength="29" lengthAdjust="spacingAndGlyphs">34014</text>
<text x="114.2" y="967.0" font-family="Liberation Sans, sans-serif" font-size="9.7" fill="#a6a6a6" textLength="8" lengthAdjust="spacingAndGlyphs">L:</text>
<text x="125.2" y="967.0" font-family="Liberation Sans, sans-serif" font-size="9.7" fill="#222" textLength="29.2" lengthAdjust="spacingAndGlyphs">26455</text>
<text x="168" y="967.0" font-family="Liberation Sans, sans-serif" font-size="9.7" fill="#2a97a6" textLength="23.1" lengthAdjust="spacingAndGlyphs">3520</text>
<text x="207.6" y="967.0" font-family="Liberation Sans, sans-serif" font-size="9.7" fill="#2a97a6" textLength="28.6" lengthAdjust="spacingAndGlyphs">12.9%</text>
</g>
<rect x="1568" y="946" width="290" height="29" fill="#fff" fill-opacity="0.85"/>
<path d="M1575.1 956.6 L1578.4 953.8 L1583.5 958.9 L1584.9 957.7 L1587.4 965.5 L1579 963.7 L1580.4 962 Z" fill="#686868"/>
<path d="M1600.5 965.9 C1598.9 961 1599.8 959.3 1603.6 959.3 L1607.4 959.3 C1611.2 959.3 1612.5 957.8 1612.2 952.9" stroke="#686868" stroke-width="2.4" stroke-linecap="round" fill="none"/>
<g fill="#686868"><rect x="1620" y="950.1" width="20" height="1.7"/><rect x="1620" y="968.2" width="20" height="1.7"/>
<rect x="1620" y="953.8" width="4" height="2.3" fill-opacity="1"/>
<rect x="1627.7" y="953.8" width="5.1" height="2.3" fill-opacity="1"/>
<rect x="1635.9" y="953.8" width="4.1" height="2.3" fill-opacity="1"/>
<rect x="1620" y="964" width="4" height="2.3" fill-opacity="1"/>
<rect x="1627.7" y="964" width="5.1" height="2.3" fill-opacity="1"/>
<rect x="1635.9" y="964" width="4.1" height="2.3" fill-opacity="1"/>
<rect x="1620" y="959.1" width="4" height="2.3" fill-opacity="0.33"/>
<rect x="1627.7" y="959.1" width="5.1" height="2.3" fill-opacity="0.33"/>
<rect x="1635.9" y="959.1" width="4.1" height="2.3" fill-opacity="0.33"/>
</g>
<path d="M1644.5 950V969.5H1664M1644.5 969.5L1654.4 953M1644.5 969.5L1661.9 959" stroke="#686868" stroke-width="1.1" fill="none"/>
<path d="M1668 959.6H1688" stroke="#686868" stroke-width="1.4"/>
<path d="M1694.3 952.2L1709.6 967.5" stroke="#686868" stroke-width="1.4"/><rect x="1692" y="950" width="4.8" height="4.6" rx="1" fill="#686868"/><circle cx="1709.6" cy="967.5" r="2.5" fill="#686868"/>
<rect x="1718.5" y="952.5" width="15" height="15" fill="#fff" stroke="#686868" stroke-width="1.1"/>
<text opacity="0.999" x="1742" y="961.9" font-family="Liberation Sans, sans-serif" font-size="9.5" fill="#707070" textLength="16" lengthAdjust="spacingAndGlyphs">Abc</text><rect x="1741.1" y="962.9" width="17.8" height="1.1" fill="#686868"/>
<path d="M1767.2 966.2L1780.2 953.2" stroke="#707070" stroke-width="1.2"/>
<rect x="1797.2" y="951.1" width="1.7" height="18.6" fill="#858585"/>
<path d="M1825.8 952.3L1829.5 956L1815.9 969.5L1812.3 965.9Z" fill="#686868"/>
<path d="M1816.9 968.4l-1.3 -1.3M1818.7 966.6l-1.3 -1.3M1820.5 964.8l-1.3 -1.3M1822.3 963l-1.3 -1.3M1824.1 961.2l-1.3 -1.3M1825.9 959.4l-1.3 -1.3M1827.7 957.6l-1.3 -1.3" stroke="#fff" stroke-width="0.6"/>
<path d="M1838 955.9L1846.2 964.1M1846.2 955.9L1838 964.1" stroke="#9a9a9a" stroke-width="2.3"/>
<rect x="0" y="58" width="1912" height="40" fill="#fff"/>
<rect x="0" y="98" width="1912" height="1" fill="#5c5c5c" shape-rendering="crispEdges"/>
<text x="12.3" y="83" font-family="Liberation Sans, sans-serif" font-size="13" font-weight="bold" fill="#333" textLength="31" lengthAdjust="spacingAndGlyphs">Daily</text>
<path d="M49.1 76.6h9.4l-4.7 5.6z" fill="#555"/>
<text x="79" y="83" font-family="Liberation Sans, sans-serif" font-size="13" font-weight="bold" fill="#333" textLength="58" lengthAdjust="spacingAndGlyphs">Technical</text>
<path d="M143.9 76.6h9.4l-4.7 5.6z" fill="#555"/>
<text x="173.2" y="83" font-family="Liberation Sans, sans-serif" font-size="13" font-weight="bold" fill="#333" textLength="45.2" lengthAdjust="spacingAndGlyphs">Display</text>
<path d="M225 76.6h9.4l-4.7 5.6z" fill="#555"/>
<text x="254.3" y="83" font-family="Liberation Sans, sans-serif" font-size="13" font-weight="bold" fill="#333" textLength="31" lengthAdjust="spacingAndGlyphs">More</text>
<path d="M291.8 76.6h9.4l-4.7 5.6z" fill="#555"/>
<path d="M0.3 66.5v1.6M0.6 70l-0.9 2.6" stroke="#8a5a3a" stroke-width="1.1" fill="none"/>
<path d="M323.5 83.6V73.3Q323.5 72.3 324.5 72.3H328.2L330.3 74.7H334.2Q335 74.7 335 75.6V77" stroke="#333" stroke-width="1" fill="none"/>
<path d="M327.9 77.2H337.9L335 84.1H324.8Z" fill="#333" stroke="#333" stroke-width="0.6" stroke-linejoin="round"/>
<path d="M358.7 70.9H369.2L372.1 73.8V84.4Q372.1 85.8 370.7 85.8H358.7Q357.3 85.8 357.3 84.4V72.3Q357.3 70.9 358.7 70.9Z" fill="#333"/>
<rect x="360.9" y="71.9" width="7.3" height="4" fill="#fff"/><rect x="365.9" y="72.5" width="1.2" height="2.6" fill="#333"/>
<rect x="359.3" y="78.5" width="11.1" height="5.5" rx="0.7" fill="#fff"/>
<rect x="390" y="77" width="13" height="3" fill="#000"/>
<rect x="422" y="77" width="13" height="3" fill="#000"/><rect x="427" y="72" width="3" height="13" fill="#000"/>
<rect x="0" y="0" width="1912" height="24" fill="#000"/>
<rect x="0" y="24" width="1912" height="34" fill="#202124"/>
<rect x="0" y="55.8" width="1912" height="2.2" fill="#000"/>
<rect x="6" y="3" width="16" height="16" fill="#0b8a96"/>
<text x="14" y="16" text-anchor="middle" font-family="Liberation Sans, sans-serif" font-size="13.5" font-weight="bold" fill="#fff">S</text>
<text x="27.3" y="15.8" font-family="Liberation Sans, sans-serif" font-size="12" fill="#8e8e8e" textLength="179.5" lengthAdjust="spacingAndGlyphs">Japan 225, Daily - Google Chrome</text>
<path d="M1799.8 11.5H1810.3" stroke="#8a8a8a" stroke-width="1"/>
<path d="M1846.5 8.5H1854.5V16.5H1846.5ZM1848.5 8.5V6.5H1856.5V14.5H1854.5" stroke="#8a8a8a" stroke-width="1" fill="none"/>
<path d="M1891.8 6.2L1902.3 16.7M1902.3 6.2L1891.8 16.7" stroke="#8a8a8a" stroke-width="1.1"/>
<circle cx="16.9" cy="39.8" r="11.8" fill="#000"/>
<g stroke="#f1f3f4" stroke-width="1.6" fill="none"><path d="M17.3 36.9H23M11 43.1H16.9"/><circle cx="13.4" cy="36.9" r="1.7"/><circle cx="20.6" cy="43.1" r="1.7"/></g>
<text x="37.2" y="44.7" font-family="Liberation Sans, sans-serif" font-size="14" fill="#fff" textLength="144.8" lengthAdjust="spacingAndGlyphs">financials.spreadex.com</text>
<text x="182.3" y="44.7" font-family="Liberation Sans, sans-serif" font-size="14" fill="#9aa0a6" textLength="306.4" lengthAdjust="spacingAndGlyphs">/en-GB/Home/LiveChartMain?id=XFinSprMchMkt</text>
<text x="488.7" y="44.7" font-family="Liberation Sans, sans-serif" font-size="14" fill="#9aa0a6" textLength="150.8" lengthAdjust="spacingAndGlyphs">|527846&amp;name=Japan%</text>
<text x="639.7" y="44.7" font-family="Liberation Sans, sans-serif" font-size="14" fill="#9aa0a6" textLength="356.8" lengthAdjust="spacingAndGlyphs">20225,%20Daily&amp;temp=autogen_527846_1698647920066</text>
</svg>
</body></html>
